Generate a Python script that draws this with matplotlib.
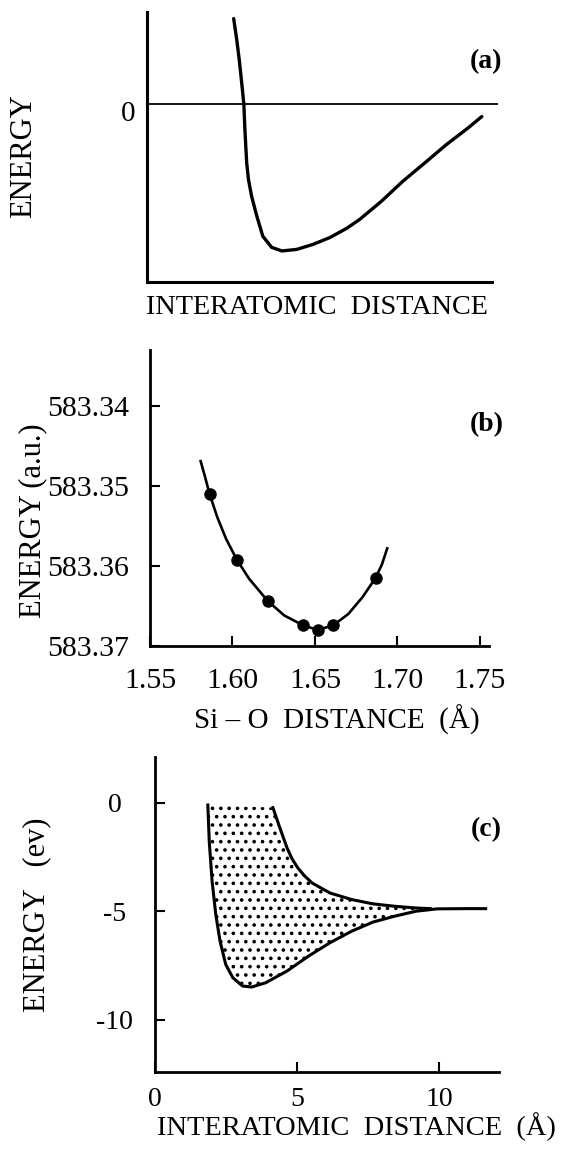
import matplotlib
matplotlib.use("Agg")
import matplotlib.pyplot as plt

plt.rcParams['font.family'] = ['Liberation Serif', 'DejaVu Serif']
plt.rcParams['axes.unicode_minus'] = False
plt.rcParams['hatch.linewidth'] = 1.4

# (a) schematic pair potential, arbitrary units
pot_r = [2.48, 2.57, 2.64, 2.71, 2.77, 2.80, 2.85, 2.90, 2.99, 3.14, 3.31, 3.56, 3.85,
         4.27, 4.74, 5.22, 5.70, 6.07, 6.68, 7.29, 7.91, 8.52, 9.14, 9.54]
pot_e = [2.87, 2.14, 1.48, 0.70, 0.00, -0.86, -1.96, -2.51, -3.08, -3.75, -4.42, -4.79, -4.91,
         -4.86, -4.69, -4.46, -4.15, -3.85, -3.25, -2.58, -1.97, -1.36, -0.80, -0.41]

# (b) computed energies vs Si-O distance
sio_d = [1.5861, 1.6026, 1.6215, 1.6427, 1.6517, 1.6612, 1.6867]
sio_e = [583.3510, 583.3592, 583.3644, 583.3674, 583.3680, 583.3674, 583.3615]
fit_d = [1.5807, 1.5833, 1.5861, 1.5908, 1.5961, 1.6026, 1.6101, 1.6215, 1.6315,
         1.6427, 1.6517, 1.6612, 1.6702, 1.6788, 1.6867, 1.6906, 1.6938]
fit_e = [583.3469, 583.3488, 583.3510, 583.3539, 583.3566, 583.3592, 583.3616, 583.3644,
         583.3662, 583.3674, 583.3680, 583.3674, 583.3660, 583.3639, 583.3615, 583.3598,
         583.3578]
b_xticks = [1.55, 1.60, 1.65, 1.70, 1.75]
b_yticks = [583.34, 583.35, 583.36, 583.37]

# (c) band of potentials (lower / upper bound)
low_r = [1.86, 1.91, 2.01, 2.14, 2.29, 2.49, 2.74, 3.08, 3.40, 3.90, 4.65, 5.41,
         6.16, 6.92, 7.67, 8.43, 9.18, 9.94, 10.94, 11.64]
low_e = [-0.11, -1.79, -3.62, -5.15, -6.38, -7.45, -8.06, -8.44, -8.49, -8.29, -7.75, -7.06,
         -6.45, -5.92, -5.50, -5.23, -5.00, -4.89, -4.88, -4.88]
up_r = [4.15, 4.40, 4.65, 4.83, 5.03, 5.25, 5.53, 6.16, 6.92, 7.67, 8.43, 9.18, 9.69]
up_e = [-0.23, -1.18, -2.09, -2.60, -3.01, -3.35, -3.70, -4.16, -4.46, -4.66, -4.77, -4.85,
        -4.88]
c_xticks = [0, 5, 10]
c_yticks = [0, -5, -10]

W, H = 562, 1151
fig = plt.figure(figsize=(W / 100, H / 100), dpi=100)


def box(l, t, r, b):
    return [l / W, 1 - b / H, (r - l) / W, (b - t) / H]


def ftext(x, y, s, **kw):
    fig.text(x / W, 1 - y / H, s, ha='center', va='center', **kw)


def clean(ax, lw=2.0):
    for s in ('top', 'right'):
        ax.spines[s].set_visible(False)
    for s in ('left', 'bottom'):
        ax.spines[s].set_linewidth(lw)


# ---- (a)
ax = fig.add_axes(box(146.5, 12, 498, 282))
clean(ax, 2.2)
ax.set_xlim(0, 10)
ax.set_ylim(-5.95, 3.09)
ax.spines['bottom'].set_bounds(0, 9.83)
ax.set_xticks([])
ax.set_yticks([])
ax.axhline(0, color='k', lw=1.3)
ax.plot(pot_r, pot_e, color='k', lw=2.4, solid_capstyle='round', solid_joinstyle='round')
ftext(128, 114, '0', fontsize=21)
ftext(24, 156, 'ENERGY', fontsize=22, rotation=90)
ftext(317, 308, 'INTERATOMIC  DISTANCE', fontsize=20.3)
ftext(486, 62, '(a)', fontsize=20, fontweight='bold')

# ---- (b)
ax = fig.add_axes(box(150, 350, 489, 646))
clean(ax, 2.0)
ax.set_xlim(1.55, 1.7555)
ax.set_ylim(583.37, 583.333)
ax.plot(fit_d, fit_e, color='k', lw=1.9, solid_joinstyle='round')
ax.plot(sio_d, sio_e, 'o', color='k', ms=8)
ax.set_xticks(b_xticks)
ax.set_xticklabels(['%.2f' % v for v in b_xticks])
ax.set_yticks(b_yticks)
ax.set_yticklabels(['%.2f' % v for v in b_yticks])
ax.tick_params(direction='in', length=7, width=1.5, labelsize=21.5)
ax.tick_params(axis='x', pad=16)
ax.tick_params(axis='y', pad=15)
ftext(33, 521, 'ENERGY (a.u.)', fontsize=22, rotation=90)
ftext(337, 720, 'Si – O  DISTANCE  (Å)', fontsize=21)
ftext(487, 425, '(b)', fontsize=20, fontweight='bold')

# ---- (c)
ax = fig.add_axes(box(155, 757, 499, 1072))
clean(ax, 2.0)
ax.set_xlim(0, 12.11)
ax.set_ylim(-12.4, 2.1)
ax.fill(low_r + up_r[::-1], low_e + up_e[::-1], facecolor='none', edgecolor='k',
        hatch='..', linewidth=0)
ax.plot(low_r, low_e, color='k', lw=2.2, solid_joinstyle='round')
ax.plot(up_r, up_e, color='k', lw=2.2, solid_joinstyle='round')
ax.set_xticks(c_xticks)
ax.set_yticks(c_yticks)
ax.tick_params(direction='in', length=7, width=1.5, labelsize=20)
ax.tick_params(axis='x', pad=11)
ax.tick_params(axis='y', pad=29)
for lbl in ax.get_yticklabels():
    lbl.set_horizontalalignment('center')
    lbl.set_verticalalignment('center_baseline')
ftext(37, 915, 'ENERGY   (ev)', fontsize=22, rotation=90)
ftext(356, 1127, 'INTERATOMIC  DISTANCE  (Å)', fontsize=20.5)
ftext(486, 830, '(c)', fontsize=20, fontweight='bold')

fig.savefig('out.png', dpi=100)
